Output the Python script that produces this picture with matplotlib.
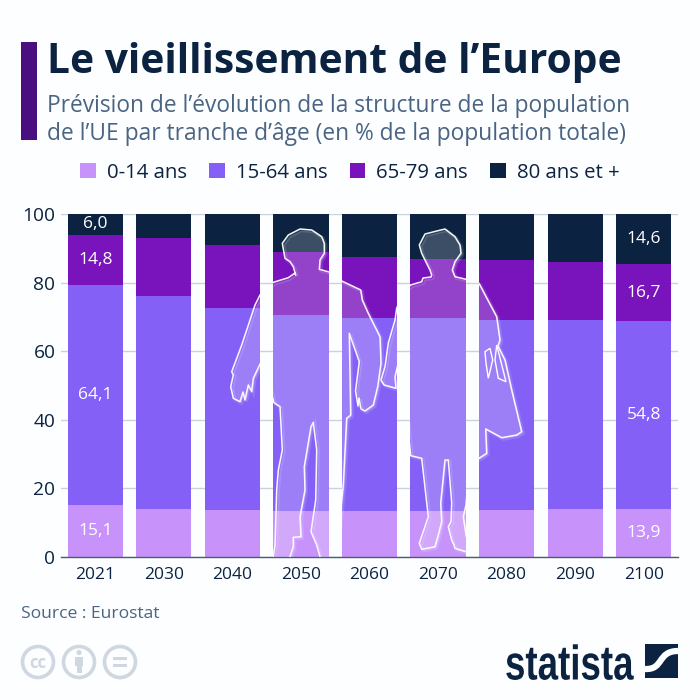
import matplotlib
matplotlib.use("Agg")
import matplotlib.patheffects as pe
import matplotlib.pyplot as plt
import numpy as np
from matplotlib.patches import Circle, PathPatch, Polygon, Rectangle
from matplotlib.path import Path
from matplotlib.transforms import Affine2D

plt.rcParams["font.family"] = ["Open Sans", "DejaVu Sans"]

years = ["2021", "2030", "2040", "2050", "2060", "2070", "2080", "2090", "2100"]
age_0_14 = [15.1, 14.0, 13.6, 13.5, 13.5, 13.5, 13.8, 13.9, 13.9]
age_15_64 = [64.1, 62.1, 59.0, 57.1, 56.2, 56.2, 55.4, 55.1, 54.8]
age_65_79 = [14.8, 16.9, 18.4, 18.4, 17.9, 17.2, 17.4, 17.0, 16.7]
age_80 = [6.0, 7.0, 9.0, 11.0, 12.4, 13.1, 13.4, 14.0, 14.6]
labelled = ["2021", "2100"]

series = [
    ("0-14 ans", age_0_14, "#c793fb"),
    ("15-64 ans", age_15_64, "#8460f6"),
    ("65-79 ans", age_65_79, "#7914bd"),
    ("80 ans et +", age_80, "#0b2340"),
]

# illustration traced in image pixels, not data
man = [(295.7, 275), (293.3, 266.7), (290, 261.7), (285, 258.3), (282.3, 243.3), (288.3, 235),
       (300, 229), (311.7, 230), (321.7, 236.7), (324.3, 243.3), (324.3, 253.3), (320, 260),
       (319.3, 269.3), (329, 272), (341.7, 281), (360.7, 290), (362.3, 300), (368.3, 313.3),
       (380, 336.7), (381, 363.3), (377.7, 386.7), (373.3, 405), (365, 411), (361, 409),
       (359, 398), (358, 406), (355.5, 391), (359.3, 361.7), (349.3, 333.3), (350.7, 415),
       (346.7, 418.3), (343.3, 485), (335, 565), (320, 565), (320, 556.7), (316.7, 545),
       (311, 531.7), (315.7, 500), (316.7, 450), (313.3, 422.3), (311, 426.7), (304.3, 466.7),
       (305, 490), (300, 516.7), (301, 536.7), (293.3, 537.3), (293.3, 546.7), (290, 556.7),
       (290, 565), (272, 565), (275, 545), (275.7, 523), (276.7, 490), (278.3, 470),
       (282.3, 450), (280, 406.7), (274, 402.7), (262, 360), (253.3, 378.3), (251.7, 391.7),
       (248.3, 385), (245, 400), (243, 392), (240, 401.7), (233.3, 398.3),
       (230.7, 386.7), (233.3, 375), (231.7, 371.7), (241.7, 345), (255, 305), (260, 295),
       (273.3, 282.3), (288.3, 277.7), (295, 273)]
woman = [(431.7, 275), (430, 270), (425, 260), (421.7, 253.3), (419.3, 245), (425, 234),
         (436.7, 231), (445, 229), (455, 236.7), (460, 245), (461, 253.3), (455, 261.7),
         (452.3, 270), (455, 276.7), (466, 279.3), (479, 283.3), (496.7, 316.7), (500, 340),
         (498, 346), (505, 360), (511.7, 390), (521.7, 431.7), (516.7, 435), (501.7, 437.7),
         (485.7, 429), (486.7, 453.3), (479, 458.3), (470, 457), (466, 505), (463.3, 516.7),
         (466, 535), (470, 552), (466, 551.7), (455, 548.3), (454, 545), (451.7, 540),
         (448.3, 526.7), (451, 521.7), (451.7, 503), (448.3, 460), (445, 460), (440.7, 503),
         (441.7, 521.7), (438.3, 535), (435, 546.7), (421.7, 549.3), (419.3, 543.3),
         (428.3, 516.7), (421.7, 458.3), (410.7, 455.7), (405, 400), (399, 360), (395, 376.7),
         (396, 388.3), (384, 385), (381, 380), (385, 366.7), (388.3, 343), (395, 320),
         (396.7, 308), (405, 290), (410.7, 285), (421.7, 281.7), (423, 278), (431, 277)]
bag_a = [(485, 351.7), (490, 348.3), (492.7, 360), (488.3, 378.3), (486, 363)]
bag_b = [(496.7, 345), (506, 381.7), (498.3, 378.3), (495, 360)]

BG = "#fdfeff"
DARK = "#0b2340"
GREY = "#cfd8e0"


class Squeeze(pe.AbstractPathEffect):
    # no condensed bold font here, so narrow the logo text when it is drawn
    def __init__(self, sx):
        super().__init__()
        self.sx = sx

    def draw_path(self, renderer, gc, tpath, affine, rgbFace=None):
        renderer.draw_path(gc, tpath, Affine2D().scale(self.sx, 1) + affine, rgbFace)


fig = plt.figure(figsize=(7, 7), dpi=100, facecolor=BG)
ax = fig.add_axes([61 / 700, 1 - 557 / 700, 617 / 700, 343 / 700], facecolor="none")

x = np.arange(len(years))
bar_w = 0.807
bottom = np.zeros(len(years))
handles = []
for name, values, color in series:
    bars = ax.bar(x, values, bar_w, bottom=bottom, color=color, label=name, zorder=2)
    texts = [f"{v:.1f}".replace(".", ",") if y in labelled else "" for y, v in zip(years, values)]
    ax.bar_label(bars, labels=texts, label_type="center", color="white", fontsize=12.5, zorder=5)
    handles.append(bars)
    bottom += np.array(values)

ax.set_xlim(-0.5, len(years) - 0.5)
ax.set_ylim(0, 100)
ax.set_xticks(x, years)
ax.set_yticks(range(0, 101, 20))
ax.tick_params(axis="x", length=0, labelsize=12.5, labelcolor=DARK, pad=7)
ax.tick_params(axis="y", length=0, labelsize=13.8, labelcolor=DARK, pad=4)
ax.grid(axis="y", color="#cbd3da", lw=1, zorder=0)
ax.set_axisbelow(True)
for side in ["top", "left", "right"]:
    ax.spines[side].set_visible(False)
ax.spines["bottom"].set_color("#4a5d70")
ax.spines["bottom"].set_linewidth(1)

fig.legend(handles, [s[0] for s in series], loc="center", bbox_to_anchor=(350 / 700, 1 - 173 / 700),
           ncol=4, frameon=False, fontsize=14.7, labelcolor=DARK, handlelength=0.75, handleheight=0.75,
           handletextpad=0.55, columnspacing=1.1, borderpad=0, borderaxespad=0)

# overlay in image pixels for header, footer and the silhouettes
over = fig.add_axes([0, 0, 1, 1], facecolor="none", zorder=5)
over.set_xlim(0, 700)
over.set_ylim(700, 0)
over.axis("off")

over.add_patch(Rectangle((21, 42), 16, 98, color="#4b0e80", lw=0))
over.text(47, 73, "Le vieillissement de l’Europe", fontsize=29.3, fontweight="bold", color=DARK, va="baseline")
sub_color = "#4a6482"
over.text(47, 112, "Prévision de l’évolution de la structure de la population", fontsize=16.4, color=sub_color, va="baseline")
over.text(47, 140, "de l’UE par tranche d’âge (en % de la population totale)", fontsize=16.4, color=sub_color, va="baseline")
over.text(21, 618, "Source : Eurostat", fontsize=12.6, color="#4a6482", va="baseline")

# silhouettes only show on top of the bars
rects = [Rectangle((i - bar_w / 2, 0), bar_w, 100) for i in x]
clip = Path.make_compound_path(*[r.get_path().transformed(r.get_patch_transform()) for r in rects])
for shape in [man, woman]:
    pts = np.array(shape)
    fill = Polygon(pts + 1.5, closed=True, fc="white", ec="none", alpha=0.2)
    glow = Polygon(pts + 1.5, closed=True, fc="none", ec="white", lw=2.5, alpha=0.12)
    line = Polygon(pts, closed=True, fc="none", ec="white", lw=1.1, alpha=0.95, joinstyle="round")
    for p in [fill, glow, line]:
        over.add_patch(p)
        p.set_clip_path(clip, ax.transData)
for shape in [bag_a, bag_b]:
    p = Polygon(shape, closed=True, fc="none", ec="white", lw=1.0)
    over.add_patch(p)
    p.set_clip_path(clip, ax.transData)

# licence icons
for cx in [38, 79, 120]:
    over.add_patch(Circle((cx, 662), 15.5, fc="none", ec=GREY, lw=2.6))
over.text(38, 662.5, "cc", fontsize=12, fontweight="bold", color=GREY, ha="center", va="center")
over.add_patch(Circle((79, 652.5), 2.6, color=GREY, lw=0))
over.add_patch(Rectangle((75, 656.5), 8, 9, color=GREY, lw=0))
over.add_patch(Rectangle((76.5, 665), 5, 8, color=GREY, lw=0))
over.add_patch(Rectangle((113, 657), 14, 3.2, color=GREY, lw=0))
over.add_patch(Rectangle((113, 664), 14, 3.2, color=GREY, lw=0))

# statista logo
over.text(505, 679.5, "statista", fontsize=35, fontweight="bold", color=DARK, va="baseline",
          family=["Liberation Sans", "DejaVu Sans"], path_effects=[Squeeze(0.755)])
over.add_patch(Rectangle((645, 644), 33, 34, color=DARK, lw=0))
swoosh = Path([(645, 669), (664, 670), (657, 651), (678, 651)],
              [Path.MOVETO, Path.CURVE4, Path.CURVE4, Path.CURVE4])
over.add_patch(PathPatch(swoosh, fc="none", ec=BG, lw=4.5, capstyle="butt"))

fig.savefig("out.png", dpi=100, facecolor=BG)
